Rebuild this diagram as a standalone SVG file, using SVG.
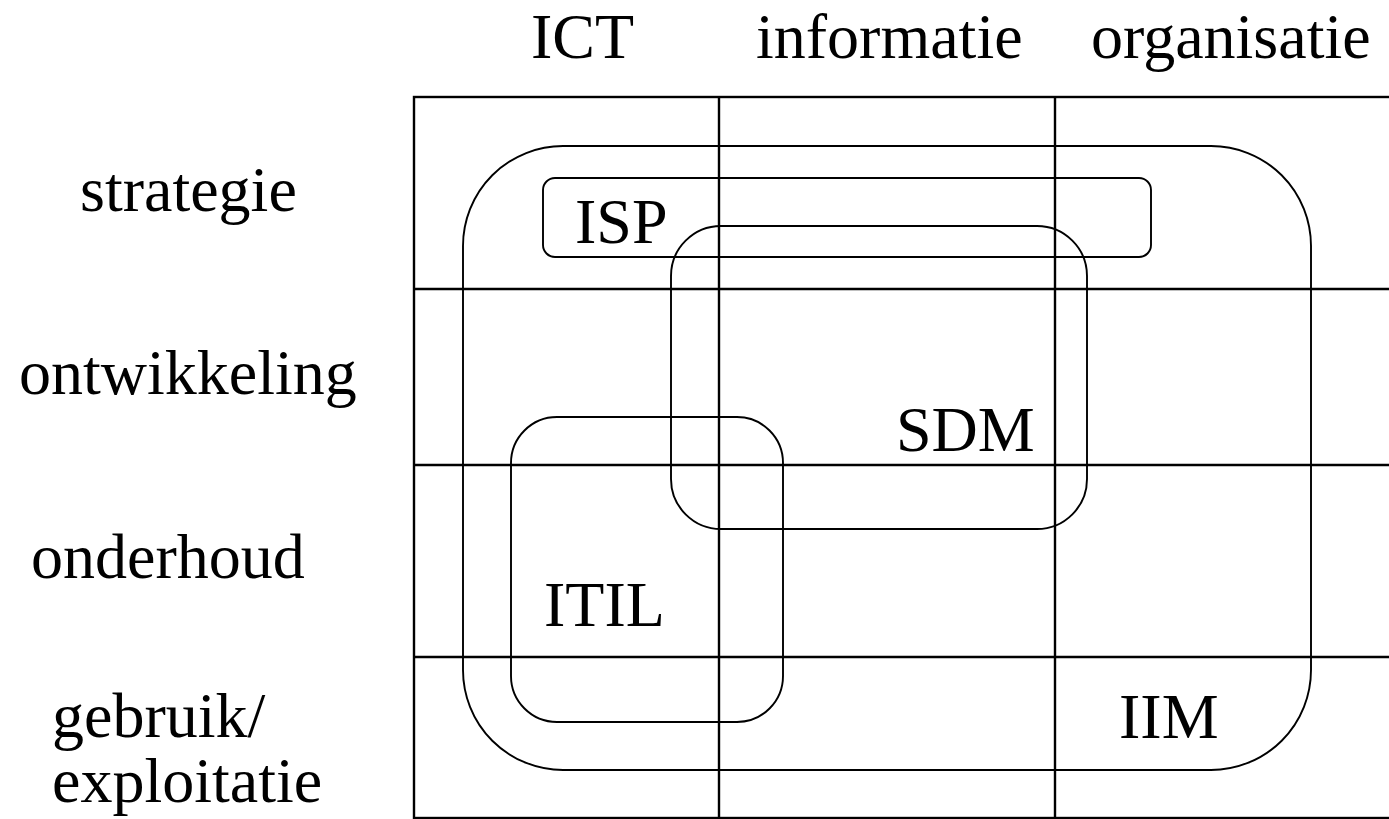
<svg xmlns="http://www.w3.org/2000/svg" width="1389" height="819" viewBox="0 0 1389 819">
<style>
text{font-family:"Liberation Serif","Times New Roman",serif;font-size:64px;fill:#000}
.grid{fill:none;stroke:#000;stroke-width:2.4}
.area{fill:none;stroke:#000;stroke-width:1.9}
</style>
<rect width="1389" height="819" fill="#fff"/>
<g id="grid">
<rect class="grid" x="414" y="97" width="1010" height="721"/>
<line class="grid" x1="719" y1="97" x2="719" y2="818"/>
<line class="grid" x1="1055" y1="97" x2="1055" y2="818"/>
<line class="grid" x1="414" y1="289" x2="1389" y2="289"/>
<line class="grid" x1="414" y1="465" x2="1389" y2="465"/>
<line class="grid" x1="414" y1="657" x2="1389" y2="657"/>
</g>
<g id="col-labels">
<text x="531" y="58">ICT</text>
<text x="756" y="58">informatie</text>
<text x="1091" y="58">organisatie</text>
</g>
<g id="row-labels">
<text x="80" y="211">strategie</text>
<text x="19" y="394">ontwikkeling</text>
<text x="31" y="578">onderhoud</text>
<text x="52" y="737">gebruik/</text>
<text x="52" y="802">exploitatie</text>
</g>
<g id="IIM">
<rect class="area" x="463" y="146" width="848" height="624" rx="100" ry="100"/>
<text x="1119" y="738">IIM</text>
</g>
<g id="ISP">
<rect class="area" x="543" y="178" width="608" height="79" rx="12" ry="12"/>
<text x="575" y="243">ISP</text>
</g>
<g id="SDM">
<rect class="area" x="671" y="226" width="416" height="303" rx="50" ry="50"/>
<text x="896" y="451">SDM</text>
</g>
<g id="ITIL">
<rect class="area" x="511" y="417" width="272" height="305" rx="46" ry="46"/>
<text x="544" y="626">ITIL</text>
</g>
<g id="connectors"></g>
</svg>
